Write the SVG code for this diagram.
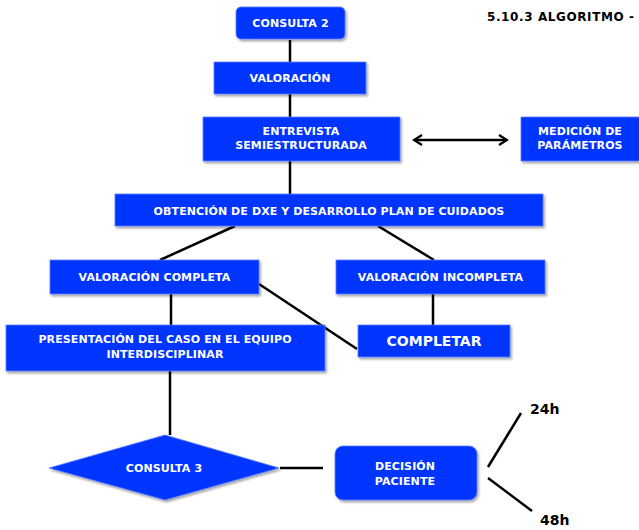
<svg xmlns="http://www.w3.org/2000/svg" width="639" height="530" viewBox="0 0 639 530">
  <style>
    .box { fill: #0336FF; stroke: #5a7cff; stroke-width: 0.8; filter: url(#shadow); }
    .lbl { font-family: "DejaVu Sans", Verdana, sans-serif; font-weight: bold; font-size: 11px; letter-spacing: 0.1px; fill: #ffffff; text-anchor: middle; }
    .big { font-size: 14px; letter-spacing: 0; }
    .ext { font-family: "DejaVu Sans", Verdana, sans-serif; font-weight: bold; fill: #000000; }
    .edge { stroke: #000000; stroke-width: 2.5; fill: none; }
  </style>
  <defs>
    <filter id="shadow" x="-10%" y="-20%" width="120%" height="150%">
      <feDropShadow dx="1.5" dy="2" stdDeviation="1.2" flood-color="#000000" flood-opacity="0.35"/>
    </filter>
    <marker id="head" viewBox="0 0 12 12" refX="10" refY="6" markerWidth="12" markerHeight="12" markerUnits="userSpaceOnUse" orient="auto-start-reverse">
      <path d="M2,1 L10,6 L2,11" fill="none" stroke="#000000" stroke-width="2.2"/>
    </marker>
  </defs>

  <rect width="639" height="530" fill="#ffffff"/>

  <text class="ext" x="487" y="21" font-size="12" letter-spacing="0.6">5.10.3 ALGORITMO -</text>

  <!-- connectors -->
  <g id="connectors">
    <line class="edge" x1="290" y1="40" x2="290" y2="62"/>
    <line class="edge" x1="290" y1="94" x2="290" y2="117"/>
    <line class="edge" x1="290" y1="161" x2="290" y2="194"/>
    <line class="edge" x1="414" y1="140" x2="507" y2="140" marker-start="url(#head)" marker-end="url(#head)"/>
    <line class="edge" x1="235" y1="226" x2="160" y2="260"/>
    <line class="edge" x1="378" y1="226" x2="434" y2="260"/>
    <line class="edge" x1="171" y1="294" x2="171" y2="325"/>
    <line class="edge" x1="433" y1="294" x2="433" y2="325"/>
    <line class="edge" x1="259" y1="284" x2="357" y2="349"/>
    <line class="edge" x1="170" y1="371" x2="170" y2="435"/>
    <line class="edge" x1="280" y1="468" x2="323" y2="468"/>
    <line class="edge" x1="488" y1="467" x2="521" y2="413"/>
    <line class="edge" x1="488" y1="478" x2="532" y2="511"/>
  </g>

  <g id="consulta2">
    <rect class="box" x="236" y="7" width="109" height="32" rx="5"/>
    <text class="lbl" x="290.5" y="27">CONSULTA 2</text>
  </g>

  <g id="valoracion">
    <rect class="box" x="214" y="62" width="152" height="32"/>
    <text class="lbl" x="290" y="82">VALORACIÓN</text>
  </g>

  <g id="entrevista">
    <rect class="box" x="203" y="117" width="197" height="44"/>
    <text class="lbl" x="301" y="135">ENTREVISTA</text>
    <text class="lbl" x="301" y="149">SEMIESTRUCTURADA</text>
  </g>

  <g id="medicion">
    <rect class="box" x="521" y="117" width="122" height="44"/>
    <text class="lbl" x="580" y="135">MEDICIÓN DE</text>
    <text class="lbl" x="580" y="149">PARÁMETROS</text>
  </g>

  <g id="obtencion">
    <rect class="box" x="115" y="194" width="428" height="32"/>
    <text class="lbl" x="329" y="215">OBTENCIÓN DE DXE Y DESARROLLO PLAN DE CUIDADOS</text>
  </g>

  <g id="valoracion-completa">
    <rect class="box" x="50" y="260" width="209" height="34"/>
    <text class="lbl" x="154.5" y="281">VALORACIÓN COMPLETA</text>
  </g>

  <g id="valoracion-incompleta">
    <rect class="box" x="336" y="260" width="209" height="34"/>
    <text class="lbl" x="440.5" y="281">VALORACIÓN INCOMPLETA</text>
  </g>

  <g id="presentacion">
    <rect class="box" x="6" y="325" width="319" height="46"/>
    <text class="lbl" x="165" y="343">PRESENTACIÓN DEL CASO EN EL EQUIPO</text>
    <text class="lbl" x="165" y="358">INTERDISCIPLINAR</text>
  </g>

  <g id="completar">
    <rect class="box" x="358" y="325" width="152" height="32"/>
    <text class="lbl big" x="434" y="346">COMPLETAR</text>
  </g>

  <g id="consulta3">
    <polygon class="box" points="165,435 279,468 165,500 49,468"/>
    <text class="lbl" x="164" y="472">CONSULTA 3</text>
  </g>

  <g id="decision">
    <rect class="box" x="335" y="446" width="142" height="54" rx="8"/>
    <text class="lbl" x="405" y="470">DECISIÓN</text>
    <text class="lbl" x="405" y="485">PACIENTE</text>
  </g>

  <text class="ext" x="530" y="414" font-size="14">24h</text>
  <text class="ext" x="540" y="525" font-size="14">48h</text>
</svg>
